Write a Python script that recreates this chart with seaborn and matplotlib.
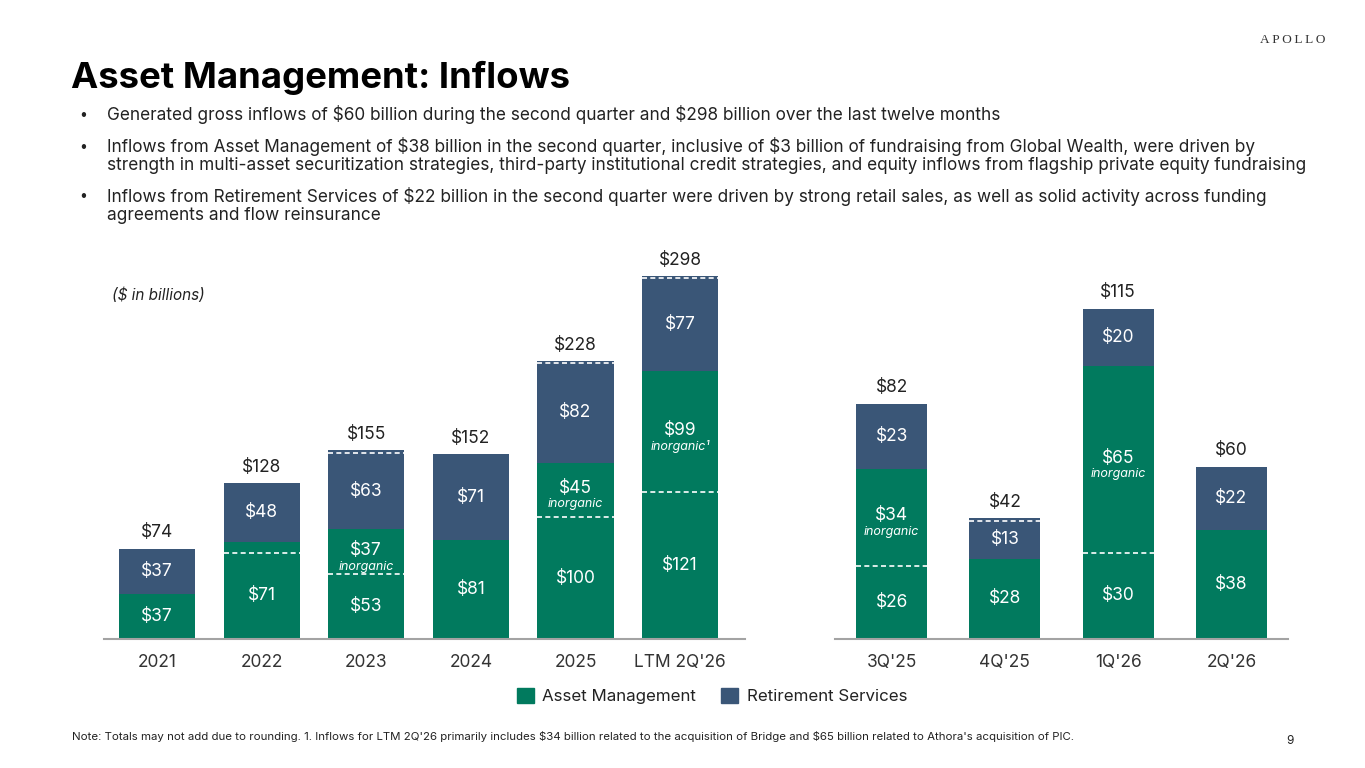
import numpy as np
import pandas as pd
import matplotlib
matplotlib.use("Agg")
import matplotlib.pyplot as plt
from matplotlib.patches import Patch
import seaborn as sns

# ---- data ($ in billions) ----
years = ["2021", "2022", "2023", "2024", "2025", "LTM 2Q'26"]
am_organic = [37, 71, 53, 81, 100, 121]
am_inorganic = [0, 9, 37, 0, 45, 99]
am_inorg_note = ["", "", "inorganic", "", "inorganic", "inorganic\u00b9"]
rs_organic = [37, 48, 63, 71, 82, 77]
rs_inorganic = [0, 0, 2, 0, 1, 1]

quarters = ["3Q'25", "4Q'25", "1Q'26", "2Q'26"]
q_am_organic = [25.6, 28, 30, 38]
q_am_inorganic = [33.6, 0, 65, 0]
q_am_inorg_note = ["inorganic", "", "inorganic", ""]
q_rs_organic = [22.7, 13, 20, 22]
q_rs_inorganic = [0, 1, 0, 0]

bullets = [
    ["Generated gross inflows of $60 billion during the second quarter and $298 billion over the last twelve months"],
    ["Inflows from Asset Management of $38 billion in the second quarter, inclusive of $3 billion of fundraising from Global Wealth, were driven by",
     "strength in multi-asset securitization strategies, third-party institutional credit strategies, and equity inflows from flagship private equity fundraising"],
    ["Inflows from Retirement Services of $22 billion in the second quarter were driven by strong retail sales, as well as solid activity across funding",
     "agreements and flow reinsurance"],
]
note = ("Note: Totals may not add due to rounding. 1. Inflows for LTM 2Q'26 primarily includes $34 billion related to the "
        "acquisition of Bridge and $65 billion related to Athora's acquisition of PIC.")

GREEN = "#017A5E"
BLUE = "#3A5677"
TXT = "#222222"

W, H = 1365, 768

sns.set_style("white")
plt.rcParams["font.family"] = ["Inter", "DejaVu Sans"]
plt.rcParams["text.parse_math"] = False


def px(x, y):
    return x / W, 1 - y / H


def draw_panel(ax, cats, am_org, am_inorg, notes, rs_org, rs_inorg, width, ymax, xlim):
    am_tot = np.array(am_org) + np.array(am_inorg)
    total = am_tot + np.array(rs_org) + np.array(rs_inorg)
    df = pd.DataFrame({"cat": cats, "total": total, "am": am_tot})

    sns.barplot(data=df, x="cat", y="total", color=BLUE, saturation=1,
                width=width, linewidth=0, ax=ax)
    sns.barplot(data=df, x="cat", y="am", color=GREEN, saturation=1,
                width=width, linewidth=0, ax=ax)

    for i in range(len(cats)):
        lo, hi = i - width / 2, i + width / 2
        # dashed separators
        if am_inorg[i] > 0:
            ax.hlines(am_org[i], lo, hi, colors="white", linestyles=(0, (3, 2)), lw=1.2)
        if rs_inorg[i] > 0:
            ax.hlines(am_tot[i] + rs_org[i], lo, hi, colors="white",
                      linestyles=(0, (3, 2)), lw=1.2)

        # segment labels
        ax.text(i, am_org[i] / 2, f"${am_org[i]:.0f}", color="white",
                ha="center", va="center", fontsize=12.5)
        if notes[i]:
            yc = am_org[i] + am_inorg[i] / 2
            ax.annotate(f"${am_inorg[i]:.0f}", (i, yc), xytext=(0, 1),
                        textcoords="offset points", color="white",
                        ha="center", va="center", fontsize=12.5)
            ax.annotate(notes[i], (i, yc), xytext=(0, -10.5),
                        textcoords="offset points", color="white",
                        ha="center", va="center", fontsize=9, style="italic")
        ax.text(i, am_tot[i] + rs_org[i] / 2, f"${rs_org[i]:.0f}", color="white",
                ha="center", va="center", fontsize=12.5)

        # totals
        ax.annotate(f"${total[i]:.0f}", (i, total[i]), xytext=(0, 11.5),
                    textcoords="offset points", color=TXT,
                    ha="center", va="center", fontsize=12.5)

    ax.set_ylim(0, ymax)
    ax.set_xlim(*xlim)
    ax.set_xlabel("")
    ax.set_ylabel("")
    ax.set_yticks([])
    sns.despine(ax=ax, left=True)
    ax.spines["bottom"].set_color("#a3a3a3")
    ax.spines["bottom"].set_linewidth(1.5)
    ax.tick_params(axis="x", length=0, pad=11, labelsize=12.5, labelcolor="#333333")


fig = plt.figure(figsize=(W / 100, H / 100), dpi=100)

ax_l = fig.add_axes([104 / W, 1 - 639 / H, (745 - 104) / W, (639 - 250) / H])
draw_panel(ax_l, years, am_organic, am_inorganic, am_inorg_note,
           rs_organic, rs_inorganic, 0.727, 319.6, (-0.507, 5.62))

ax_r = fig.add_axes([835 / W, 1 - 639 / H, (1288 - 835) / W, (639 - 250) / H])
draw_panel(ax_r, quarters, q_am_organic, q_am_inorganic, q_am_inorg_note,
           q_rs_organic, q_rs_inorganic, 0.627, 135.5, (-0.5, 3.5))

# header
fig.text(*px(71, 88), "Asset Management: Inflows", fontsize=26.3, weight="bold",
         color="black", va="baseline")
fig.text(*px(1293, 40), "A\u2009P\u2009O\u2009L\u2009L\u2009O",
         family=["Liberation Serif", "DejaVu Serif"], fontsize=9.5,
         color="#333333", ha="center", va="center")

line_y = [[115], [147, 166], [196, 216]]
for lines, ys in zip(bullets, line_y):
    fig.text(*px(79, ys[0]), "\u2022", fontsize=10, color=TXT, va="center")
    for txt, y in zip(lines, ys):
        fig.text(*px(107, y), txt, fontsize=12.4, color=TXT, va="center")

fig.text(*px(112, 295), "($ in billions)", fontsize=11, style="italic",
         color=TXT, va="center")

handles = [Patch(color=GREEN, label="Asset Management"),
           Patch(color=BLUE, label="Retirement Services")]
fig.legend(handles=handles, loc="center", bbox_to_anchor=px(712, 696), ncol=2,
           frameon=False, fontsize=12.2, handlelength=1.0, handleheight=1.0,
           handletextpad=0.5, columnspacing=1.5, labelcolor=TXT)

fig.text(*px(72, 737), note, fontsize=8.25, color=TXT, va="center")
fig.text(*px(1290, 741), "9", fontsize=8.5, color=TXT, ha="center", va="center")

fig.savefig("out.png", dpi=100)
